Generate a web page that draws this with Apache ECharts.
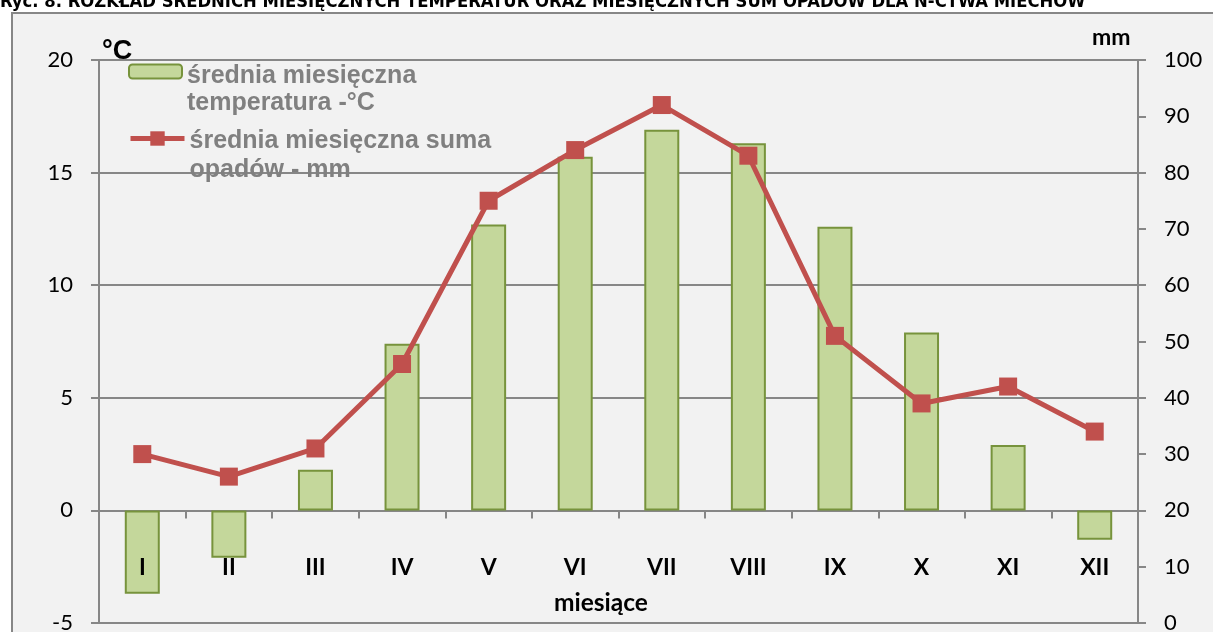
<html>
<head>
<meta charset="utf-8">
<script src="https://cdn.jsdelivr.net/npm/echarts@6/dist/echarts.min.js"></script>
<style>
  body { margin:0; padding:0; background:#fff; }
  #main { width:1213px; height:632px; }
</style>
</head>
<body>
<div id="main"></div>
<script type="text/javascript">
// dane: miesiące, temperatura [°C], opady [mm]
var months = ['I', 'II', 'III', 'IV', 'V', 'VI', 'VII', 'VIII', 'IX', 'X', 'XI', 'XII'];
var temperature = [-3.7, -2.1, 1.8, 7.4, 12.7, 15.7, 16.9, 16.3, 12.6, 7.9, 2.9, -1.3];
var precipitation = [30, 26, 31, 46, 75, 84, 92, 83, 51, 39, 42, 34];
var tempTicks = [-5, 20, 5];   // min, max, interval
var rainTicks = [0, 100, 10];

var tempName = 'średnia miesięczna\ntemperatura -°C';
var rainName = 'średnia miesięczna suma\nopadów - mm';

var gray = '#878787';
var axisFont = 'Lato, "Open Sans", sans-serif';

// tekst legendy: pusta pierwsza linia (e), zeby ikona byla przy 1. wierszu
function legendText(emptyLh, lh) {
    var t = {
        color: '#808080', fontWeight: 'bold', fontSize: 25,
        fontFamily: '"Liberation Sans", Arial, sans-serif',
        lineHeight: lh
    };
    return {
        color: t.color, fontWeight: t.fontWeight, fontSize: t.fontSize,
        fontFamily: t.fontFamily, lineHeight: lh,
        rich: {
            e: { fontSize: 10, lineHeight: emptyLh },
            t: t
        }
    };
}
function legendFormatter(name) {
    return '{e| }\n' + name.split('\n').map(function (s) { return '{t|' + s + '}'; }).join('\n');
}

var myChart = echarts.init(document.getElementById('main'));

myChart.setOption({
    backgroundColor: '#ffffff',
    animation: false,
    title: {
        text: 'Ryc. 8. ROZKŁAD ŚREDNICH MIESIĘCZNYCH TEMPERATUR ORAZ MIESIĘCZNYCH SUM OPADÓW DLA N-CTWA MIECHÓW',
        left: 0,
        top: -7,
        padding: 0,
        textStyle: {
            fontFamily: '"Liberation Sans Narrow", "DejaVu Sans Condensed", sans-serif',
            fontWeight: 'bold',
            fontSize: 18.3,
            color: '#000'
        }
    },
    // ramka wykresu + opisy osi
    graphic: [
        {
            type: 'rect', z: -10, silent: true,
            shape: { x: 12, y: 13, width: 1220, height: 640 },
            style: { fill: '#f2f2f2', stroke: gray, lineWidth: 2 }
        },
        {
            type: 'text', left: 102, top: 38,
            style: { text: '°C', fill: '#000', font: 'bold 27px "Liberation Sans", Arial, sans-serif' }
        },
        {
            type: 'text', left: 1092, top: 26,
            style: { text: 'mm', fill: '#000', font: 'bold 23px Lato, sans-serif' }
        },
        {
            type: 'text', left: 554, top: 591,
            style: { text: 'miesiące', fill: '#000', font: 'bold 24.5px Lato, sans-serif' }
        }
    ],
    legend: [
        {
            data: [tempName],
            left: 128,
            top: 26.5,
            padding: 0,
            itemWidth: 53,
            itemHeight: 14,
            formatter: legendFormatter,
            textStyle: legendText(36, 27)
        },
        {
            data: [rainName],
            left: 128,
            top: 92,
            padding: 0,
            itemWidth: 54,
            itemHeight: 18,
            formatter: legendFormatter,
            lineStyle: { width: 5 },
            textStyle: legendText(35, 29)
        }
    ],
    grid: {
        left: 99,
        right: 75,
        top: 60,
        bottom: 9,
        outerBoundsMode: 'none',
        containLabel: false
    },
    xAxis: [
        {
            // os na poziomie 0 °C: linia i kreski
            type: 'category',
            data: months,
            axisLine: { onZero: true, onZeroAxisIndex: 0, lineStyle: { color: gray, width: 2 } },
            axisTick: { show: true, length: 8, lineStyle: { color: gray, width: 2 } },
            axisLabel: { show: false },
            splitLine: { show: false }
        },
        {
            // podpisy miesiecy (nizej, jak w Excelu)
            type: 'category',
            data: months,
            position: 'bottom',
            z: 10,
            axisLine: { show: false, onZero: false },
            axisTick: { show: false },
            axisLabel: {
                inside: true, margin: 44, color: '#000', fontWeight: 'bold', fontSize: 23, fontFamily: axisFont
            },
            splitLine: { show: false }
        }
    ],
    yAxis: [
        {
            type: 'value',
            min: tempTicks[0],
            max: tempTicks[1],
            interval: tempTicks[2],
            axisLine: { show: true, lineStyle: { color: gray, width: 2 } },
            axisTick: { show: true, length: 8, lineStyle: { color: gray, width: 2 } },
            axisLabel: { margin: 26, color: '#000', fontSize: 22, fontFamily: axisFont },
            splitLine: { show: true, lineStyle: { color: gray, width: 2 } }
        },
        {
            type: 'value',
            position: 'right',
            min: rainTicks[0],
            max: rainTicks[1],
            interval: rainTicks[2],
            axisLine: { show: true, lineStyle: { color: gray, width: 2 } },
            axisTick: { show: true, length: 8, lineStyle: { color: gray, width: 2 } },
            axisLabel: { margin: 26, color: '#000', fontSize: 22, fontFamily: axisFont },
            splitLine: { show: false }
        }
    ],
    series: [
        {
            name: tempName,
            type: 'bar',
            xAxisIndex: 0,
            yAxisIndex: 0,
            data: temperature,
            barWidth: 35,
            itemStyle: { color: '#c4d79b', borderColor: '#77933c', borderWidth: 2 }
        },
        {
            name: rainName,
            type: 'line',
            xAxisIndex: 0,
            yAxisIndex: 1,
            data: precipitation,
            symbol: 'rect',
            symbolSize: 18,
            lineStyle: { color: '#c0504d', width: 5 },
            itemStyle: { color: '#c0504d' },
            z: 5
        }
    ]
});
</script>
</body>
</html>
